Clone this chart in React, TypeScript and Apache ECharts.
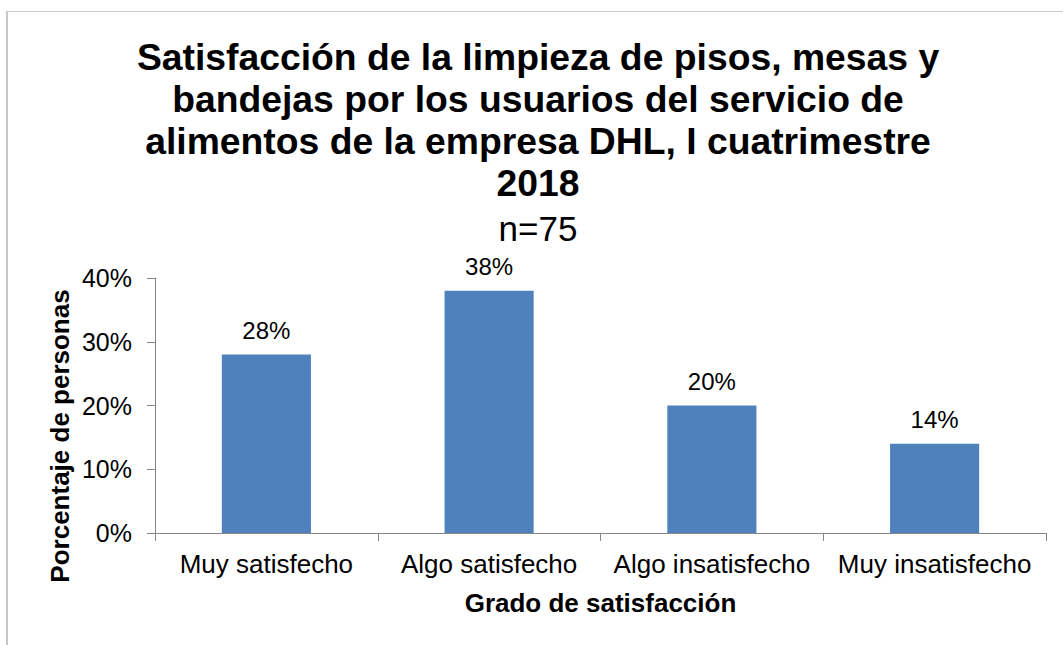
import React, { useEffect, useRef } from "react";
import * as echarts from "echarts";

const categories = ["Muy satisfecho", "Algo satisfecho", "Algo insatisfecho", "Muy insatisfecho"];
const values = [28, 38, 20, 14];
const yTicks = { min: 0, max: 40, interval: 10 };
const titleLines = [
  "Satisfacción de la limpieza de pisos, mesas y",
  "bandejas por los usuarios del servicio de",
  "alimentos de la empresa DHL, I cuatrimestre",
  "2018",
];
const subtitle = "n=75";
const yName = "Porcentaje de personas";
const xName = "Grado de satisfacción";

const FONT = "'Liberation Sans', Arial, Helvetica, sans-serif";

export default function App() {
  const ref = useRef<HTMLDivElement>(null);
  useEffect(() => {
    if (!ref.current) return;
    const chart = echarts.init(ref.current, null, { renderer: "svg" });
    chart.setOption({
      animation: false,
      backgroundColor: "#ffffff",
      textStyle: { fontFamily: FONT },
      title: {
        left: 538,
        top: 36,
        padding: 0,
        textAlign: "center",
        text: titleLines.join("\n"),
        textStyle: { fontSize: 37.3, fontWeight: "bold", color: "#000", lineHeight: 42, fontFamily: FONT },
        subtext: subtitle,
        subtextStyle: { fontSize: 35, color: "#000", lineHeight: 40, fontFamily: FONT },
        itemGap: 4,
      },
      grid: { left: 155, right: 17, top: 278, bottom: 112, containLabel: false },
      xAxis: {
        type: "category",
        data: categories,
        name: xName,
        nameLocation: "middle",
        nameGap: 57,
        nameTextStyle: { fontSize: 26, fontWeight: "bold", color: "#000", fontFamily: FONT },
        axisLine: { show: true, lineStyle: { color: "#868686", width: 1 } },
        axisTick: { show: true, length: 8, interval: 0, lineStyle: { color: "#868686" } },
        axisLabel: { fontSize: 26, color: "#000", margin: 18, interval: 0, fontFamily: FONT },
        splitLine: { show: false },
      },
      yAxis: {
        type: "value",
        min: yTicks.min,
        max: yTicks.max,
        interval: yTicks.interval,
        axisLine: { show: true, lineStyle: { color: "#868686", width: 1 } },
        axisTick: { show: true, length: 8, lineStyle: { color: "#868686" } },
        axisLabel: { fontSize: 25, color: "#000", margin: 23, formatter: "{value}%", fontFamily: FONT },
        splitLine: { show: false },
      },
      series: [
        {
          type: "bar",
          data: values,
          barWidth: "40%",
          itemStyle: { color: "#4F81BD" },
          label: {
            show: true,
            position: "top",
            distance: 12,
            fontSize: 24,
            color: "#000",
            formatter: "{c}%",
            fontFamily: FONT,
          },
        },
      ],
      graphic: [
        {
          type: "text",
          x: 60,
          y: 436,
          rotation: Math.PI / 2,
          style: {
            text: yName,
            fontSize: 26,
            fontWeight: "bold",
            fill: "#000",
            fontFamily: FONT,
            align: "center",
            verticalAlign: "middle",
          },
        },
        {
          type: "line",
          shape: { x1: 7, y1: 11, x2: 7, y2: 645 },
          style: { stroke: "#c8c8c8", lineWidth: 2 },
        },
        {
          type: "line",
          shape: { x1: 6, y1: 11.5, x2: 1063, y2: 11.5 },
          style: { stroke: "#c8c8c8", lineWidth: 1 },
        },
      ],
    });
    return () => chart.dispose();
  }, []);
  return (
    <div
      ref={ref}
      style={{ position: "fixed", left: 0, top: 0, width: 1063, height: 645 }}
    />
  );
}
